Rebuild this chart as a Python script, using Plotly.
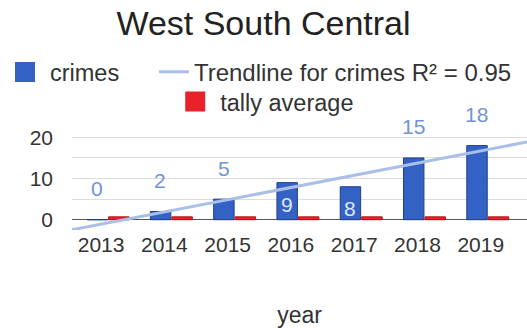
import numpy as np
import plotly.graph_objects as go

years = ["2013", "2014", "2015", "2016", "2017", "2018", "2019"]
crimes = [0, 2, 5, 9, 8, 15, 18]
tally_average = [0.7, 0.7, 0.7, 0.7, 0.7, 0.7, 0.7]
label_inside = [False, False, False, True, True, False, False]
r_squared = 0.95
y_tick_values = [0, 10, 20]

idx = np.arange(len(years))

# least-squares trend of crimes across the years, stretched over the plot width
slope, intercept = np.polyfit(idx, crimes, 1)
trend_x = np.array([-0.62, 6.75])
trend_y = slope * trend_x + intercept

BLUE = "#3462c4"
RED = "#e8222a"
TREND = "#a9bfe8"
TEXT = "#333333"
FONT = "Liberation Sans, Arial, sans-serif"

fig = go.Figure()

fig.add_trace(go.Bar(
    x=idx, y=crimes, name="crimes", legendgroup="crimes", showlegend=False,
    marker=dict(color=BLUE, line=dict(color="#1f3f8a", width=1)),
))
fig.add_trace(go.Bar(
    x=idx, y=tally_average, name="tally average", legendgroup="tally",
    showlegend=False,
    marker=dict(color=RED, line=dict(color="#b3141a", width=1)),
))
fig.add_trace(go.Scatter(
    x=trend_x, y=trend_y, mode="lines",
    line=dict(color=TREND, width=3),
    name=f"Trendline for crimes R² = {r_squared}",
    legend="legend",
))

# larger square keys for the two bar series
fig.add_trace(go.Scatter(
    x=[None], y=[None], mode="markers", name="crimes", legendgroup="crimes",
    marker=dict(symbol="square", size=16, color=BLUE,
                line=dict(color=BLUE, width=4)),
    legend="legend3",
))
fig.add_trace(go.Scatter(
    x=[None], y=[None], mode="markers", name="tally average",
    legendgroup="tally",
    marker=dict(symbol="square", size=16, color=RED,
                line=dict(color=RED, width=4)),
    legend="legend2",
))

# value labels over the crimes bars (two of them sit inside the bar)
for i, (v, inside) in enumerate(zip(crimes, label_inside)):
    fig.add_annotation(
        x=i, y=v, xref="x", yref="y", text=str(v), showarrow=False,
        xshift=-11, yshift=(-22 if inside else 31),
        font=dict(family=FONT, size=21,
                  color=("#dfe8fb" if inside else "#6f94d6")),
    )

legend_font = dict(size=23.5, color=TEXT, family=FONT)

fig.update_layout(
    width=527, height=328,
    margin=dict(l=72, r=0, t=125, b=98),
    paper_bgcolor="white", plot_bgcolor="white",
    font=dict(family=FONT, color=TEXT),
    barmode="group", bargap=0.32, bargroupgap=0.05,
    title=dict(text="West South Central", x=0.5, xanchor="center",
               y=0.93, yanchor="middle",
               font=dict(size=34, color="#222222", family=FONT)),
    legend3=dict(orientation="h", x=0.0, xanchor="left", xref="container",
                 y=0.78, yref="container", yanchor="middle",
                 font=legend_font, itemwidth=40, itemsizing="trace",
                 bgcolor="rgba(0,0,0,0)"),
    legend=dict(orientation="h", x=0.292, xanchor="left", xref="container",
                y=0.78, yref="container", yanchor="middle",
                font=dict(size=24, color=TEXT, family=FONT), itemwidth=30,
                bgcolor="rgba(0,0,0,0)"),
    legend2=dict(orientation="h", x=0.323, xanchor="left", xref="container",
                 y=0.69, yref="container", yanchor="middle",
                 font=legend_font, itemwidth=40, itemsizing="trace",
                 bgcolor="rgba(0,0,0,0)"),
    showlegend=True,
)

fig.update_xaxes(
    range=[-0.57, 6.62],
    tickmode="array", tickvals=idx, ticktext=years,
    ticklabelshift=-7,
    showgrid=False, zeroline=False, showline=False,
    tickfont=dict(size=21, color=TEXT, family=FONT),
    title=dict(text="year", font=dict(size=23, color=TEXT, family=FONT),
               standoff=52),
)
fig.update_yaxes(
    range=[-2.5, 23],
    tickmode="array", tickvals=y_tick_values,
    showgrid=True, gridcolor="#dcdcdc", gridwidth=1,
    minor=dict(dtick=5, tick0=0, showgrid=True, gridcolor="#dcdcdc"),
    zeroline=True, zerolinecolor="#555555", zerolinewidth=1,
    showline=False,
    tickfont=dict(size=21, color=TEXT, family=FONT),
    ticklabelstandoff=18,
)

fig.write_html("out.html")
